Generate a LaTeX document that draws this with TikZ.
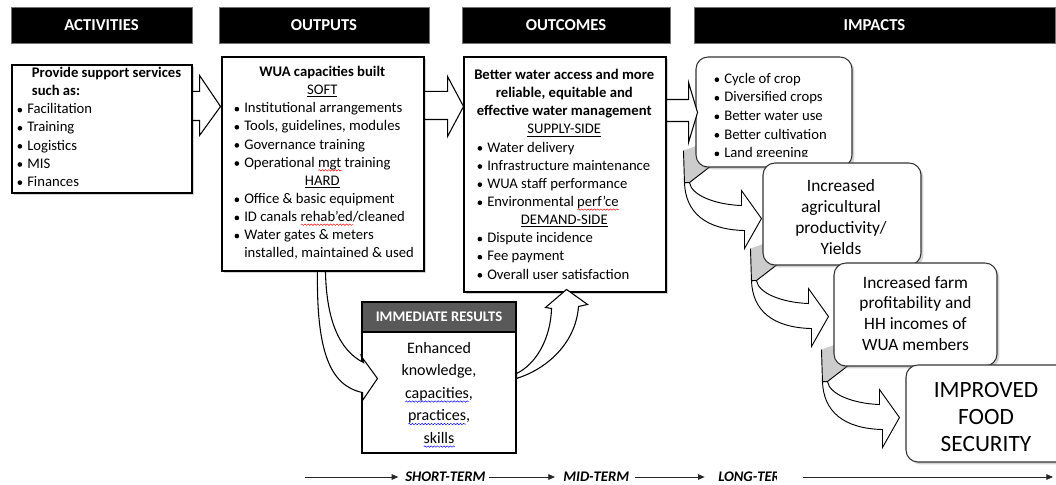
\documentclass[tikz,border=0pt]{standalone}
\usepackage{fontspec}
\setmainfont{Carlito}
\usetikzlibrary{shadows,decorations.pathmorphing,arrows.meta}
\pgfdeclarelayer{back}
\pgfsetlayers{back,main}
\newcommand\bi{\makebox[7.5pt][l]{\hspace{0.2pt}\tikz[baseline=-2.8pt]\fill (0pt,0pt) circle (1.75pt);}}
\newcommand\ctr[2][132pt]{\makebox[#1][c]{#2}}
\newsavebox\wvbox
\newcommand\wv[2]{\sbox\wvbox{#2}\rlap{\tikz[baseline=0pt]\draw[#1,line width=0.35pt,decorate,decoration={snake,amplitude=0.55pt,segment length=2.4pt}] (0pt,-2.3pt)--(\the\wd\wvbox,-2.3pt);}\usebox\wvbox}
\newcommand\bandshape{%
  \fill[gray!40] (-12,-17) -- (-11,15) -- (-6,15) -- (16,-2) -- (16,-24) -- (2,-22) -- cycle;
  \draw[line width=0.7pt] (-12,-17) -- (-11,15) (-6,15) -- (16,-2);
  \filldraw[fill=white,line width=0.7pt,line join=miter] (-6,15) .. controls (-4,28) and (20,37) .. (46,38) -- (46,23) -- (66,51) -- (49,81) -- (49,63) .. controls (10,62) and (-10,45) .. (-11,15) -- cycle;
}
\begin{document}
\begin{tikzpicture}[x=0.75pt,y=-0.75pt,
  hdr/.style={fill=black, draw=black!55, line width=0.6pt, text=white, font=\fontsize{12.5}{15}\selectfont\bfseries, inner sep=0pt, minimum height=27pt},
  box/.style={draw=black, line width=0.8pt, fill=white, inner sep=0pt, drop shadow={shadow xshift=1.8pt, shadow yshift=-1.8pt, opacity=0.35}},
  rbox/.style={box, draw=black!80, rounded corners=9pt},
  blk/.style={draw=black, fill=white, line width=0.8pt, line join=miter},
  txt/.style={inner sep=0pt, font=\fontsize{11}{13.6}\selectfont, align=left},
  ctxt/.style={inner sep=0pt, align=center},
  tl/.style={inner sep=0pt, font=\fontsize{11}{13}\selectfont\bfseries\itshape},
  tla/.style={draw=black!85, line width=0.6pt, -{Triangle[length=5pt,width=4.2pt]}}
]
\useasboundingbox (0,0) rectangle (1056,485);

% headers
\node[hdr, minimum width=135.75pt] (hA) at (101.5,25) {ACTIVITIES};
\node[hdr, minimum width=157.5pt] (hO) at (324,25) {OUTPUTS};
\node[hdr, minimum width=156pt] (hC) at (566,25) {OUTCOMES};
\node[hdr, minimum width=270.75pt] (hI) at (874.5,25) {IMPACTS};

% main boxes
\node[box, minimum width=135pt, minimum height=96pt] (act) at (102,129) {};
\node[box, minimum width=151.5pt, minimum height=160.5pt] (out) at (323,164) {};
\node[box, minimum width=151.5pt, minimum height=176.25pt] (outc) at (565,174.5) {};

\node[txt, anchor=north west] (actT) at (17,67) {%
\hspace*{11pt}\textbf{Provide support services}\\
\hspace*{11pt}\textbf{such as:}\\
\bi Facilitation\\ \bi Training\\ \bi Logistics\\ \bi MIS\\ \bi Finances};

\node[txt, anchor=north west] (outT) at (234,66) {%
\ctr{\textbf{WUA capacities built}}\\
\ctr{\underline{SOFT}}\\
\bi Institutional arrangements\\
\bi Tools, guidelines, modules\\
\bi Governance training\\
\bi Operational \wv{red}{mgt} training\\
\ctr{\underline{HARD}}\\
\bi Office \& basic equipment\\
\bi ID canals \wv{red}{rehab’ed}/cleaned\\
\bi Water gates \& meters\\
\hspace*{7.5pt}installed, maintained \& used};

\node[txt, anchor=north west] (outcT) at (477,69) {%
\ctr[130.5pt]{\textbf{Better water access and more}}\\
\ctr[130.5pt]{\textbf{reliable, equitable and}}\\
\ctr[130.5pt]{\textbf{effective water management}}\\
\ctr[130.5pt]{\underline{SUPPLY-SIDE}}\\
\bi Water delivery\\ \bi Infrastructure maintenance\\ \bi WUA staff performance\\ \bi Environmental \wv{red}{perf’ce}\\
\ctr[130.5pt]{\underline{DEMAND-SIDE}}\\
\bi Dispute incidence\\ \bi Fee payment\\ \bi Overall user satisfaction};

% impact boxes
\node[rbox, minimum width=117pt, minimum height=82.5pt] (imp1) at (774,112) {};
\node[rbox, minimum width=118.5pt, minimum height=76.5pt] (imp2) at (842,214) {};
\node[rbox, minimum width=122.25pt, minimum height=77.25pt] (imp3) at (915.5,314.5) {};
\node[rbox, minimum width=121.5pt, minimum height=72.75pt] (imp4) at (987,413.5) {};

\begin{scope}
\clip (696,57) rectangle (852,156);
\node[txt, anchor=north west, font=\fontsize{11}{13.9}\selectfont] (i1T) at (714,73) {\bi Cycle of crop\\ \bi Diversified crops\\ \bi Better water use\\ \bi Better cultivation\\ \bi Land greening};
\end{scope}
\node[ctxt, anchor=north, font=\fontsize{13}{15.8}\selectfont] (i2T) at (841,179) {Increased\\agricultural\\productivity/\\Yields};
\node[ctxt, anchor=north, font=\fontsize{13}{15.5}\selectfont] (i3T) at (915.5,276) {Increased farm\\profitability and\\HH incomes of\\WUA members};
\node[ctxt, anchor=north, font=\fontsize{17.5}{20.3}\selectfont] (i4T) at (986,382) {IMPROVED\\FOOD\\SECURITY};

% bands between impact boxes
\begin{pgfonlayer}{back}
\begin{scope}[shift={(imp1.south west)}]\bandshape\end{scope}
\begin{scope}[shift={(imp2.south west)}]\bandshape\end{scope}
\begin{scope}[shift={(imp3.south west)}]\bandshape\end{scope}
\end{pgfonlayer}

% immediate results
\node[draw=black, line width=0.8pt, fill=white, minimum width=115.5pt, minimum height=113.25pt, inner sep=0pt] (ir) at (439,377.5) {};
\node[draw=black, line width=0.8pt, fill=black!65, minimum width=115.5pt, minimum height=22.5pt, inner sep=0pt, text=white, font=\fontsize{11}{13}\selectfont\bfseries] (irH) at (439,317) {IMMEDIATE RESULTS};
\node[ctxt, anchor=north, font=\fontsize{12}{16.9}\selectfont] (irT) at (439,342) {Enhanced\\knowledge,\\\wv{blue}{capacities},\\\wv{blue}{practices},\\\wv{blue}{skills}};

% straight block arrows
\begin{scope}[shift={(act.north east)}]
\draw[blk] (0,27) -- (7,27) -- (7,11) -- (28,42) -- (7,71) -- (7,56) -- (0,56) -- cycle;
\end{scope}
\begin{scope}[shift={(out.north east)}]
\draw[blk] (0,35) -- (23,35) -- (23,20) -- (39,50) -- (23,80) -- (23,63) -- (0,63) -- cycle;
\end{scope}
\begin{scope}[shift={(outc.north east)}]
\draw[blk] (0,43) -- (22,43) -- (22,26) -- (31,56) -- (22,86) -- (22,65) -- (0,65) -- cycle;
\end{scope}

% curved arrow outputs -> immediate results
\begin{scope}[shift={(out.south west)}]
\draw[blk] (96,0) .. controls (95,79) and (108,114) .. (141,121) -- (141,129) -- (156,107) -- (140,85) -- (142,91) .. controls (118,79) and (105,49) .. (104,0) -- cycle;
\end{scope}
% curved arrow immediate results -> outcomes
\begin{scope}[shift={(ir.north east)}]
\draw[blk] (0,72) .. controls (19,63) and (34,38) .. (35,7) -- (29,6) -- (50,-12) -- (71,3) -- (62,5) .. controls (59,43) and (29,68) .. (0,77) -- cycle;
\end{scope}

% timeline
\coordinate (t0) at (305,477);
\node[tl, anchor=west] (st) at (405,477) {SHORT-TERM};
\node[tl, anchor=west] (mt) at (563,477) {MID-TERM};
\begin{scope}
\clip (700,462) rectangle (776,492);
\node[tl, anchor=west] (lt) at (718,477) {LONG-TERM};
\end{scope}
\coordinate (t1) at (803,477);
\coordinate (t2) at (1053,477);
\draw[tla] (t0) -- ([xshift=-5pt]st.west);
\draw[tla] ([xshift=2.5pt]st.east) -- ([xshift=-6pt]mt.west);
\draw[tla] ([xshift=4pt]mt.east) -- ([xshift=-10pt]lt.west);
\draw[tla] (t1) -- (t2);
\end{tikzpicture}
\end{document}
